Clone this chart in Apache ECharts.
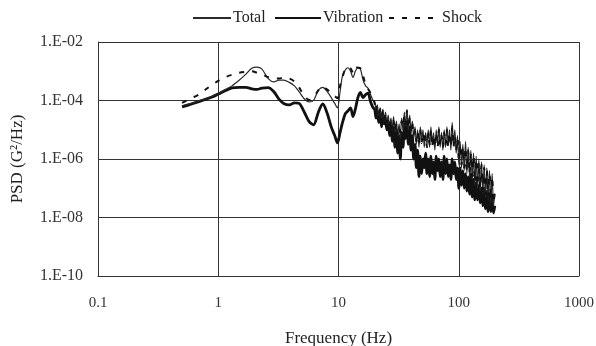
<!DOCTYPE html>
<html>
<head>
<meta charset="utf-8">
<script src="https://cdn.jsdelivr.net/npm/echarts@6/dist/echarts.min.js"></script>
<style>
html,body{margin:0;padding:0;background:#fff;}
#chart{width:596px;height:346px;}
</style>
</head>
<body>
<div id="chart"></div>
<script>
// Frequencies (Hz)
const freq = [
  0.5, 0.6, 0.7, 0.8, 0.9, 1.0, 1.15, 1.3, 1.5, 1.7,
  1.9, 2.1, 2.3, 2.6, 2.9, 3.2, 3.5, 3.9, 4.3, 4.7,
  5.2, 5.7, 6.2, 6.8, 7.4, 8.0, 8.7, 9.3, 9.8, 10.3,
  10.8, 11.4, 12.0, 12.6, 13.2, 13.8, 14.5, 15.2, 16.0, 16.8,
  17.6, 18.5, 19.4,
  20.0, 20.5, 21.0, 21.6, 22.2, 22.8, 23.4, 24.0, 24.6, 25.2,
  25.9, 26.6, 27.3, 28.0, 28.7, 29.5, 30.3, 31.1, 31.9, 32.7,
  33.5, 34.4, 35.3, 36.2, 37.1, 38.1, 39.1, 40.1, 41.1, 42.2,
  43.3, 44.4, 45.5, 46.7, 47.9, 49.1, 50.4, 51.7, 53.0, 54.4,
  55.8, 57.2, 58.7, 60.2, 61.7, 63.3, 65.0, 66.7, 68.4, 70.1,
  71.9, 73.8, 75.7, 77.7, 79.7, 81.7, 83.8, 86.0, 88.2, 90.5,
  92.8, 95.2, 97.7, 100.2, 102.8, 105.5, 108.2, 111.0, 113.9, 116.8,
  119.8, 122.9, 126.1, 129.4, 132.7, 136.1, 139.6, 143.2, 146.9, 150.7,
  154.6, 158.6, 162.7, 166.9, 171.2, 175.6, 180.2, 184.9, 189.6, 194.5,
  199.5
];

// PSD values as log10(G^2/Hz)
const totalExp = [
  -4.18, -4.09, -4.00, -3.92, -3.84, -3.75, -3.62, -3.50, -3.30, -3.10,
  -2.90, -2.86, -2.92, -3.25, -3.36, -3.30, -3.30, -3.38, -3.50, -3.70,
  -3.95, -4.05, -4.00, -3.65, -3.55, -3.68, -3.90, -4.10, -4.25, -3.70,
  -3.15, -2.95, -2.88, -3.00, -3.22, -3.00, -2.88, -2.92, -3.30, -3.50,
  -3.58, -3.80, -4.00,
  -4.05, -4.30, -4.15, -4.50, -4.25, -4.60, -4.30, -4.70, -4.40, -4.80,
  -4.50, -4.90, -4.60, -5.00, -4.55, -5.10, -4.70, -5.20, -4.80, -5.30,
  -4.60, -5.00, -4.40, -4.90, -4.30, -5.00, -4.50, -5.10, -4.70, -5.30,
  -4.90, -5.50, -5.00, -5.60, -4.90, -5.40, -5.00, -5.60, -5.10, -5.50,
  -5.00, -5.60, -4.90, -5.50, -5.10, -5.70, -5.00, -5.50, -4.90, -5.60,
  -5.10, -5.70, -5.00, -5.60, -4.90, -5.50, -5.00, -5.70, -4.75, -5.50,
  -5.00, -5.80, -5.20, -6.20, -5.40, -6.30, -5.50, -6.40, -5.40, -6.50,
  -5.60, -6.60, -5.70, -6.70, -5.80, -6.90, -5.90, -7.00, -6.00, -7.10,
  -6.10, -7.20, -6.20, -7.30, -6.30, -7.40, -6.40, -7.50, -6.50, -7.60,
  -7.20
];

const vibrationExp = [
  -4.22, -4.12, -4.03, -3.95, -3.87, -3.78, -3.66, -3.57, -3.55, -3.55,
  -3.60, -3.62, -3.58, -3.56, -3.70, -3.95, -4.10, -4.15, -4.08, -4.10,
  -4.40, -4.72, -4.83, -4.40, -4.12, -4.40, -4.90, -5.20, -5.45, -5.10,
  -4.75, -4.45, -4.35, -4.25, -4.55, -4.30, -3.90, -3.72, -3.90, -3.80,
  -3.75, -4.05, -4.25,
  -4.30, -4.60, -4.35, -4.75, -4.45, -4.90, -4.50, -4.80, -4.60, -5.00,
  -4.70, -5.20, -4.80, -5.40, -4.90, -5.60, -5.00, -5.80, -5.20, -6.00,
  -5.10, -5.60, -4.80, -5.30, -4.70, -5.50, -4.90, -5.70, -5.20, -6.00,
  -5.50, -6.30, -5.70, -6.60, -5.90, -6.50, -6.00, -6.30, -5.80, -6.50,
  -6.00, -6.60, -5.90, -6.50, -6.10, -6.70, -5.90, -6.40, -6.00, -6.60,
  -6.10, -6.70, -5.90, -6.50, -6.00, -6.60, -6.20, -6.70, -6.00, -6.50,
  -6.10, -6.70, -6.30, -7.00, -6.30, -6.90, -6.40, -7.00, -6.50, -7.10,
  -6.60, -7.20, -6.50, -7.30, -6.70, -7.40, -6.80, -7.40, -6.90, -7.50,
  -7.00, -7.60, -7.00, -7.70, -7.10, -7.80, -7.20, -7.80, -7.30, -7.85,
  -7.60
];

const shockExp = [
  -4.08, -3.92, -3.78, -3.60, -3.45, -3.33, -3.20, -3.12, -3.05, -3.02,
  -3.00, -3.05, -3.10, -3.20, -3.25, -3.25, -3.22, -3.25, -3.35, -3.55,
  -3.85, -3.98, -3.90, -3.65, -3.52, -3.62, -3.74, -3.85, -3.92, -3.50,
  -3.20, -2.92, -2.86, -2.90, -3.05, -2.85, -2.88, -2.90, -3.15, -3.45,
  -3.60, -3.75, -3.95,
  -4.10, -4.40, -4.20, -4.45, -4.30, -4.55, -4.35, -4.65, -4.45, -4.75,
  -4.60, -4.85, -4.65, -5.00, -4.70, -5.05, -4.80, -5.15, -4.90, -5.10,
  -4.70, -4.90, -4.50, -4.80, -4.35, -4.95, -4.60, -5.05, -4.80, -5.20,
  -5.00, -5.40, -5.10, -5.50, -5.00, -5.45, -5.10, -5.50, -5.20, -5.60,
  -5.10, -5.50, -5.00, -5.60, -5.20, -5.60, -5.10, -5.60, -5.00, -5.50,
  -5.20, -5.60, -5.10, -5.50, -5.00, -5.60, -5.10, -5.60, -4.90, -5.60,
  -5.20, -5.70, -5.30, -6.00, -5.50, -6.20, -5.60, -6.30, -5.60, -6.40,
  -5.70, -6.50, -5.80, -6.60, -5.90, -6.80, -6.00, -6.90, -6.10, -7.00,
  -6.20, -7.10, -6.30, -7.20, -6.40, -7.30, -6.50, -7.40, -6.60, -7.50,
  -7.10
];

const seriesNames = ['Total', 'Vibration', 'Shock'];
const xTicks = [0.1, 1, 10, 100, 1000];
const xTickLabels = ['0.1', '1', '10', '100', '1000'];
const yTicks = [1e-10, 1e-8, 1e-6, 1e-4, 1e-2];
const yTickLabels = ['1.E-10', '1.E-08', '1.E-06', '1.E-04', '1.E-02'];

function pairs(exps) {
  return freq.map((f, i) => [f, Math.pow(10, exps[i])]);
}
function labelFor(v, ticks, labels) {
  let best = 0, bd = Infinity;
  ticks.forEach((t, i) => {
    const d = Math.abs(Math.log10(t) - Math.log10(v));
    if (d < bd) { bd = d; best = i; }
  });
  return bd < 0.01 ? labels[best] : '';
}

const FONT = '"Liberation Serif", "DejaVu Serif", serif';
function legendFor(name, left, width) {
  return {
    left: left, top: 10, padding: 0,
    itemWidth: width, itemHeight: 12, itemGap: 0,
    itemStyle: {opacity: 0},
    textStyle: {fontFamily: FONT, fontSize: 16, color: '#222', padding: [0, 0, 0, -3]},
    data: [name]
  };
}
const chart = echarts.init(document.getElementById('chart'), null, {renderer: 'canvas'});
chart.setOption({
  animation: false,
  backgroundColor: '#fff',
  textStyle: {fontFamily: FONT},
  legend: [
    legendFor(seriesNames[0], 192, 38),
    legendFor(seriesNames[1], 274, 46),
    legendFor(seriesNames[2], 388, 51)
  ],
  grid: {left: 98, right: 17, top: 42, bottom: 70, containLabel: false, outerBoundsMode: 'none'},
  xAxis: {
    type: 'log', logBase: 10, min: 0.1, max: 1000, interval: 1,
    name: 'Frequency (Hz)', nameLocation: 'middle', nameGap: 54,
    nameTextStyle: {fontFamily: FONT, fontSize: 17, color: '#222'},
    axisLine: {lineStyle: {color: '#333', width: 1}},
    axisTick: {show: false},
    minorTick: {show: false},
    axisLabel: {fontFamily: FONT, fontSize: 15, color: '#333', margin: 20,
      formatter: v => labelFor(v, xTicks, xTickLabels)},
    splitLine: {show: true, lineStyle: {color: '#333', width: 1}}
  },
  yAxis: {
    type: 'log', logBase: 10, min: 1e-10, max: 1e-2, interval: 2,
    name: 'PSD (G²/Hz)', nameLocation: 'middle', nameGap: 72, nameRotate: 90,
    nameTextStyle: {fontFamily: FONT, fontSize: 17, color: '#222'},
    axisLine: {show: true, lineStyle: {color: '#333', width: 1}},
    axisTick: {show: false},
    minorTick: {show: false},
    axisLabel: {fontFamily: FONT, fontSize: 16, color: '#333', margin: 15,
      formatter: v => labelFor(v, yTicks, yTickLabels)},
    splitLine: {show: true, lineStyle: {color: '#333', width: 1}}
  },
  series: [
    {name: seriesNames[0], type: 'line', data: pairs(totalExp), symbol: 'none', showSymbol: false,
      smooth: 0.3, lineStyle: {color: '#2a2a2a', width: 1.2}, itemStyle: {color: '#2a2a2a'}, z: 3},
    {name: seriesNames[1], type: 'line', data: pairs(vibrationExp), symbol: 'none', showSymbol: false,
      smooth: 0.3, lineStyle: {color: '#111', width: 2.8}, itemStyle: {color: '#111'}, z: 2},
    {name: seriesNames[2], type: 'line', data: pairs(shockExp), symbol: 'none', showSymbol: false,
      smooth: 0.3, lineStyle: {color: '#111', width: 2, type: [5, 8]}, itemStyle: {color: '#111'}, z: 4}
  ]
});
</script>
</body>
</html>
